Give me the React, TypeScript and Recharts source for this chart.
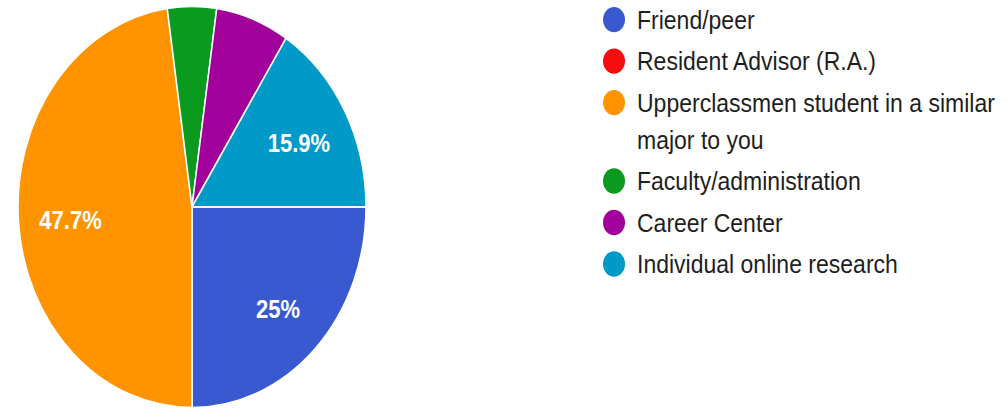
import { PieChart, Pie, Cell, Legend } from 'recharts';

// Survey answers (count of 44 responses)
const categories = [
  'Friend/peer',
  'Resident Advisor (R.A.)',
  'Upperclassmen student in a similar major to you',
  'Faculty/administration',
  'Career Center',
  'Individual online research',
];
const counts = [11, 0, 21, 2, 3, 7];
const colors = ['#3859cf', '#f70d0d', '#ff9300', '#0a9a1d', '#a1009a', '#0099c8'];

const data = categories.map((name, i) => ({ name, value: counts[i] }));
const total = counts.reduce((a, b) => a + b, 0);

// source image is stretched vertically, so draw flat and scale
const STRETCH = 1.153;
const RADIAN = Math.PI / 180;

const formatPct = (v: number) => {
  const p = Math.round((v / total) * 1000) / 10;
  return `${p}%`;
};

const renderLabel = (props: any) => {
  const { cx, cy, midAngle, outerRadius, value } = props;
  if (value / total < 0.1) return null;
  const r = outerRadius * 0.7;
  const x = cx + r * Math.cos(-midAngle * RADIAN);
  const y = cy + r * Math.sin(-midAngle * RADIAN);
  return (
    <text
      x={x}
      y={y + 3}
      fill="#fff"
      textAnchor="middle"
      dominantBaseline="central"
      fontFamily="'Liberation Sans', Arial, sans-serif"
      fontWeight="bold"
      fontSize={22}
    >
      {formatPct(value)}
    </text>
  );
};

const LegendList = () => (
  <div style={{ fontFamily: "'Liberation Sans', Arial, sans-serif", fontSize: 23, color: '#1e1e1e' }}>
    {categories.map((name, i) => (
      <div key={name} style={{ display: 'flex', alignItems: 'flex-start', marginBottom: 4 }}>
        <span
          style={{
            width: 22,
            height: 22,
            borderRadius: '50%',
            background: colors[i],
            flex: '0 0 22px',
            marginTop: 5,
            marginRight: 12,
          }}
        />
        <span style={{ width: 368, lineHeight: '32px' }}>{name}</span>
      </div>
    ))}
  </div>
);

export default function App() {
  return (
    <div
      style={{
        position: 'absolute',
        left: 0,
        top: 0,
        width: 1008,
        height: 408 / STRETCH,
        transform: `scaleY(${STRETCH})`,
        transformOrigin: 'top left',
        background: '#fff',
      }}
    >
      <PieChart
        width={1008}
        height={Math.round(408 / STRETCH)}
        margin={{ top: 0, right: 0, bottom: 0, left: 0 }}
      >
        <Pie
          data={data}
          dataKey="value"
          nameKey="name"
          cx={192}
          cy={179.5}
          outerRadius={174}
          startAngle={0}
          endAngle={-360}
          stroke="#fff"
          strokeWidth={1.5}
          label={renderLabel}
          labelLine={false}
          isAnimationActive={false}
        >
          {data.map((entry, index) => (
            <Cell key={`cell-${index}`} fill={colors[index]} />
          ))}
        </Pie>
        <Legend
          content={() => <LegendList />}
          wrapperStyle={{ position: 'absolute', left: 603, top: 1, width: 405 }}
        />
      </PieChart>
    </div>
  );
}
